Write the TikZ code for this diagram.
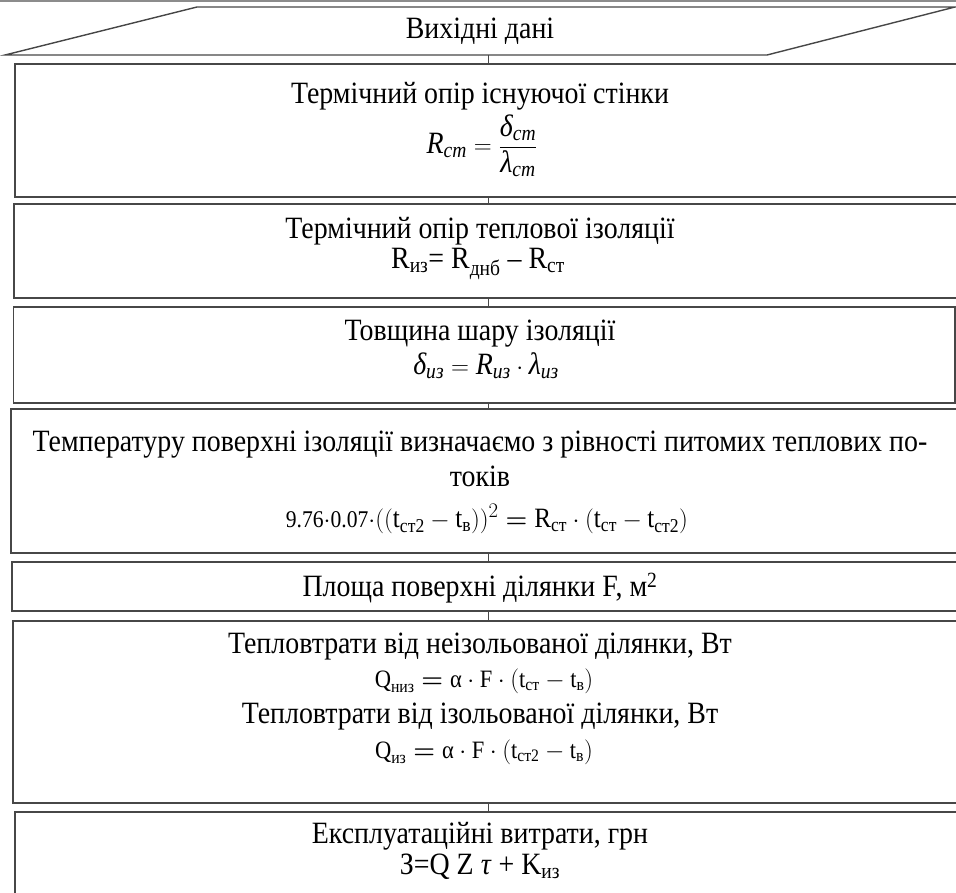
\documentclass[tikz,border=0pt]{standalone}
\usepackage{amsmath}
\usepackage{fontspec}
\setmainfont{Liberation Serif}[FakeStretch=0.9]
\begin{document}
\begin{tikzpicture}[x=1pt,y=-1pt,
  box/.style={draw=black!72, line width=1.4pt, minimum width=#1, inner sep=0pt, outer sep=0pt},
  conn/.style={draw=black!72, line width=1pt},
  txt/.style={font=\fontsize{31}{35}\selectfont, inner sep=0pt, align=center},
  frm/.style={font=\fontsize{31}{35}\selectfont, inner sep=0pt},
  mcd/.style={font=\fontsize{25}{30}\selectfont, inner sep=0pt}]
\useasboundingbox (0,0) rectangle (956,892);
\draw[black!45, line width=1.2pt] (0,1) -- (956,1);
% parallelogram
\draw[draw=black!72, line width=1.4pt, line join=miter] (197,7) -- (955,7) -- (767,55) -- (5,55) -- cycle;
\coordinate (pbot) at (488,55);
\node[txt] (t0) at (480,31) {Вихідні дані};
% boxes
\node[box=945, minimum height=133] (b1) at (487.5,130.5) {};
\node[box=947, minimum height=94] (b2) at (487.5,251) {};
\node[box=941.5, minimum height=96] (b3) at (484.25,355) {};
\node[box=953, minimum height=144] (b4) at (487.5,481) {};
\node[box=951, minimum height=49] (b5) at (487.5,586.5) {};
\node[box=949, minimum height=182] (b6) at (487.5,712) {};
\node[box=945, minimum height=100] (b7) at (487.5,862) {};
% connectors
\draw[conn] (pbot) -- (pbot |- b1.north);
\draw[conn] (b1.south -| pbot) -- (b2.north -| pbot);
\draw[conn] (b2.south -| pbot) -- (b3.north -| pbot);
\draw[conn] (b3.south -| pbot) -- (b4.north -| pbot);
\draw[conn] (b4.south -| pbot) -- (b5.north -| pbot);
\draw[conn] (b5.south -| pbot) -- (b6.north -| pbot);
\draw[conn] (b6.south -| pbot) -- (b7.north -| pbot);
% texts
\node[txt] (t1a) at (480,96) {Термічний опір існуючої стінки};
\node[frm] (t1b) at (482,146) {$\textit{R}_{\textit{ст}} = \dfrac{\textit{δ}_{\textit{ст}}}{\textit{λ}_{\textit{ст}}}$};
\node[txt] (t2a) at (480,231) {Термічний опір теплової ізоляції};
\node[txt] (t2b) at (478,264) {R\textsubscript{из}= R\textsubscript{днб} – R\textsubscript{ст}};
\node[txt] (t3a) at (480,334) {Товщина шару ізоляції};
\node[frm] (t3b) at (486,366) {$\textit{δ}_{\textit{из}} = \textit{R}_{\textit{из}}\cdot\textit{λ}_{\textit{из}}$};
\node[txt] (t4a) at (480,459) {Температуру поверхні ізоляції визначаємо з рівності питомих теплових по-\\токів};
\node[mcd, font=\fontsize{28}{32}\selectfont] (t4b) at (487,519) {{\fontsize{24}{28}\selectfont 9.76$\cdot$0.07$\cdot$}$\left(\left(\text{t}_{\text{ст2}} - \text{t}_{\text{в}}\right)\right)^{2} \boldsymbol{=} \text{R}_{\text{ст}}\cdot\left(\text{t}_{\text{ст}} - \text{t}_{\text{ст2}}\right)$};
\node[txt] (t5) at (480,588) {Площа поверхні ділянки F, м\textsuperscript{2}};
\node[txt] (t6a) at (480,647) {Тепловтрати від неізольованої ділянки, Вт};
\node[mcd] (t6b) at (484,681) {$\text{Q}_{\text{низ}} \boldsymbol{=} \text{α}\cdot\text{F}\cdot\left(\text{t}_{\text{ст}} - \text{t}_{\text{в}}\right)$};
\node[txt] (t6c) at (480,717) {Тепловтрати від ізольованої ділянки, Вт};
\node[mcd] (t6d) at (484,752) {$\text{Q}_{\text{из}} \boldsymbol{=} \text{α}\cdot\text{F}\cdot\left(\text{t}_{\text{ст2}} - \text{t}_{\text{в}}\right)$};
\node[txt] (t7a) at (480,836) {Експлуатаційні витрати, грн};
\node[txt] (t7b) at (480,867) {З=Q Z \textit{τ} + K\textsubscript{из}};
\end{tikzpicture}
\end{document}
